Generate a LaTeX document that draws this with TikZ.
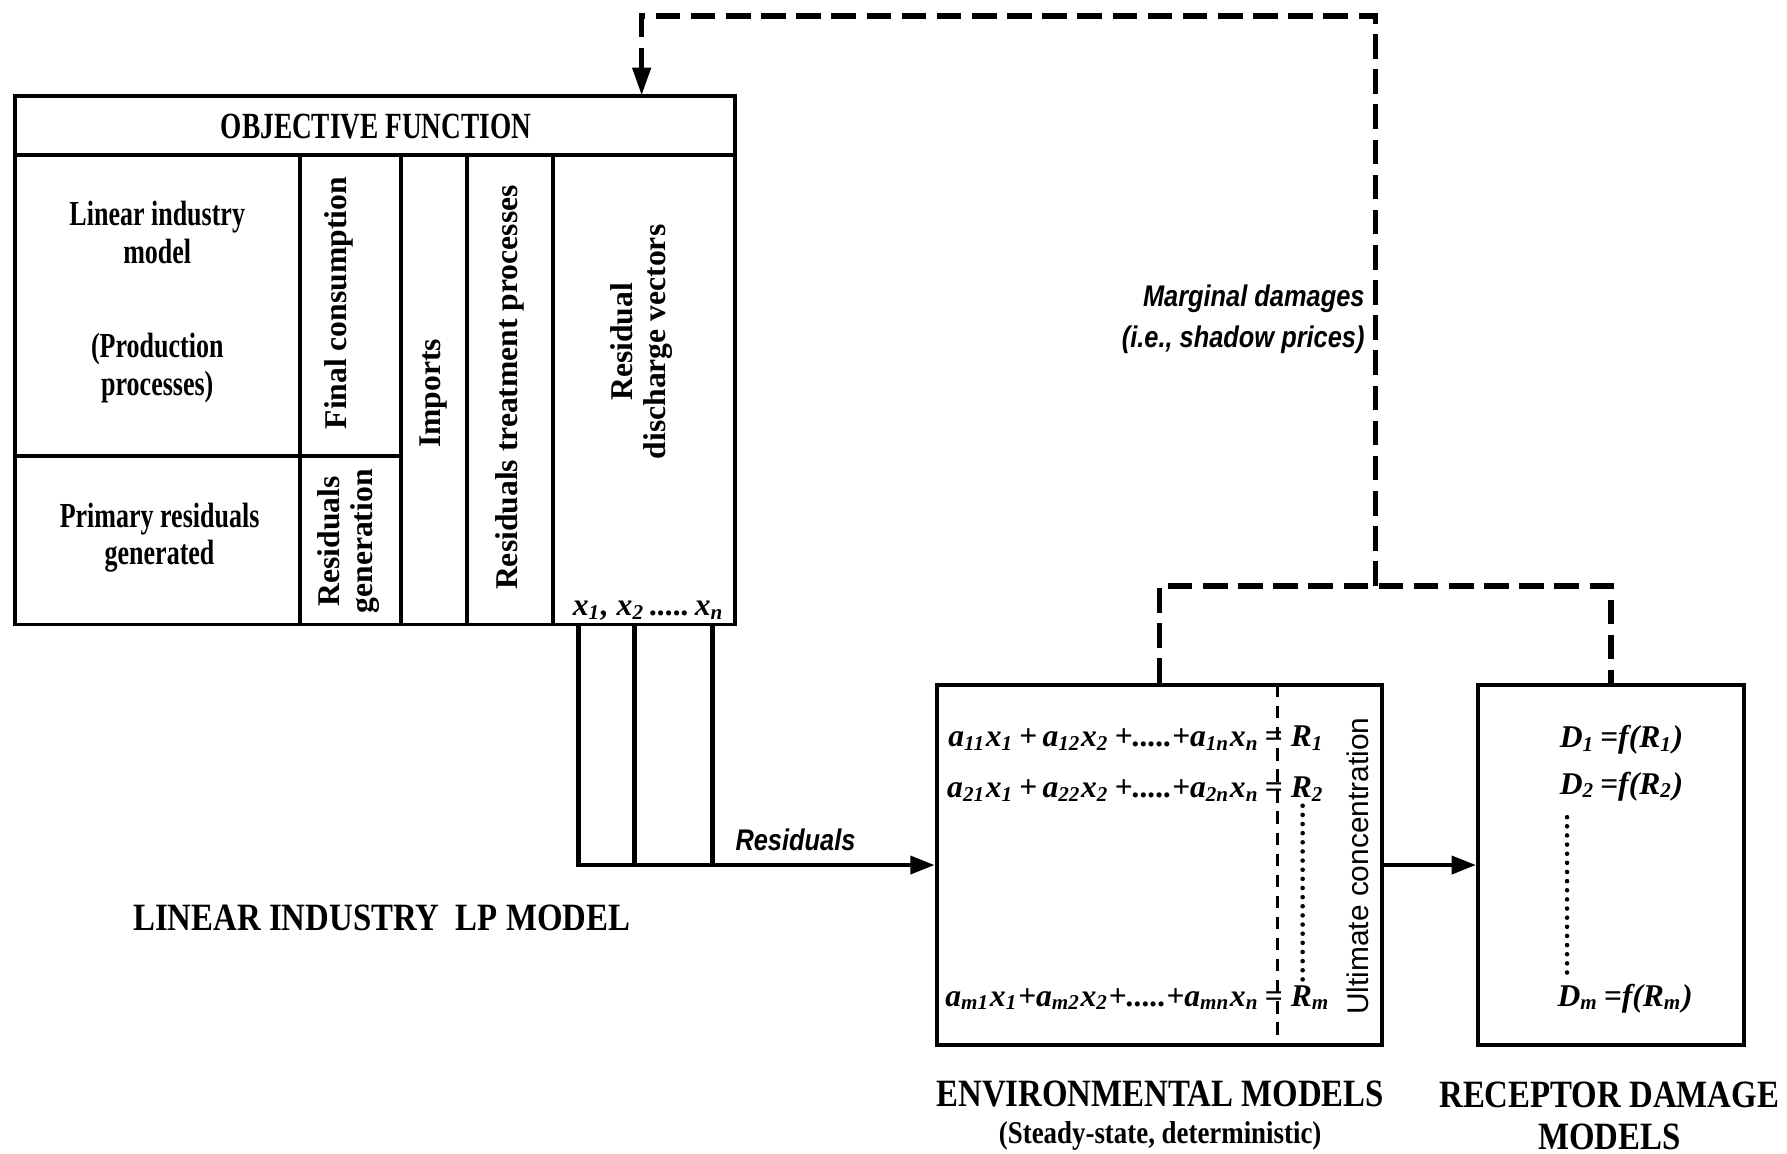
\documentclass[tikz,border=0pt]{standalone}
\usepackage{fontspec}
\setmainfont{Liberation Serif}
\setsansfont{Liberation Sans}
\newfontfamily\condserif{Liberation Serif}[FakeStretch=0.85]
\newfontfamily\narrowserif{Liberation Serif}[FakeStretch=0.74]
\newfontfamily\condsans{Liberation Sans}[FakeStretch=0.85]
\usetikzlibrary{arrows.meta,fit}
% subscript inside the italic formulas
\newcommand\sbs[1]{\textsubscript{#1}}

\begin{document}
\begin{tikzpicture}[x=0.011397cm,y=-0.011397cm,
  box/.style={draw,line width=1.1pt,inner sep=0pt},
  celltext/.style={font=\narrowserif\bfseries\fontsize{10}{10.6}\selectfont,align=center,inner sep=1pt},
  vlbl/.style={font=\bfseries\fontsize{9}{9.5}\selectfont,rotate=90,align=center,inner sep=1pt},
  caption/.style={font=\condserif\bfseries\fontsize{11}{12}\selectfont,align=center,inner sep=1pt},
  subcaption/.style={font=\condserif\bfseries\fontsize{9}{11}\selectfont,align=center,inner sep=1pt},
  note/.style={font=\condsans\bfseries\itshape\fontsize{8.5}{11.5}\selectfont,inner sep=1pt},
  eq/.style={font=\bfseries\itshape\fontsize{9}{11}\selectfont,inner sep=0pt},
  flow/.style={line width=1.4pt},
  fb/.style={line width=1.6pt,dash pattern=on 7pt off 3pt},
  tip/.style={-{Triangle[length=7pt,width=5pt]}},
  dotline/.style={line width=1.3pt,line cap=round,dash pattern=on 0pt off 2.6pt},
  thindash/.style={line width=0.8pt,dash pattern=on 3.5pt off 2.5pt}]

\fill[white] (0,0) rectangle (1568,1012);
\useasboundingbox (0,0) rectangle (1568,1012);

% ---- linear industry LP model: table of cells
\node[box,fit={(13,84)(645,136)}]   (objf)   {};
\node[box,fit={(13,136)(263,400)}]  (lin)    {};
\node[box,fit={(13,400)(263,548)}]  (prim)   {};
\node[box,fit={(263,136)(352,400)}] (fcons)  {};
\node[box,fit={(263,400)(352,548)}] (rgen)   {};
\node[box,fit={(352,136)(410,548)}] (imp)    {};
\node[box,fit={(410,136)(485,548)}] (rtreat) {};
\node[box,fit={(485,136)(645,548)}] (rdis)   {};

\node[celltext,font=\narrowserif\bfseries\fontsize{10.5}{12}\selectfont] (tobj) at (330,111) {OBJECTIVE FUNCTION};
\node[celltext] (tlin)  at (138,204) {Linear industry\\model};
\node[celltext] (tprod) at (138,323) {(Production\\processes)};
\node[celltext] (tprim) at (140,472) {Primary residuals\\generated};
\node[vlbl] (tfcons)  at (297,266) {Final consumption};
\node[vlbl] (trgen)   at (306,475) {Residuals\\generation};
\node[vlbl] (timp)    at (380,345) {Imports};
\node[vlbl] (trtreat) at (447,340) {Residuals treatment processes};
\node[vlbl] (trdis)   at (563,300) {Residual\\discharge vectors};
\node[eq] (txs) at (569,536) {x\sbs{1}, x\sbs{2}\,.....\,x\sbs{n}};

\node[caption] (lpcap) at (335,805) {LINEAR INDUSTRY\ \ LP MODEL};

% ---- environmental models
\node[box,fit={(822,601)(1213,917)}] (envbox) {};
\coordinate (dashTop) at (1121,601);
\coordinate (dashBot) at (1121,917);
\draw[thindash] (dashTop) -- (dashBot);

\node[eq,anchor=base east] (e1) at (1126,655) {a\sbs{11}x\sbs{1}\,+\,a\sbs{12}x\sbs{2}\,+.....+a\sbs{1n}x\sbs{n}\,=};
\node[eq,anchor=base west] (r1) at (1132,655) {R\sbs{1}};
\node[eq,anchor=base east] (e2) at (1126,700) {a\sbs{21}x\sbs{1}\,+\,a\sbs{22}x\sbs{2}\,+.....+a\sbs{2n}x\sbs{n}\,=};
\node[eq,anchor=base west] (r2) at (1132,700) {R\sbs{2}};
\node[eq,anchor=base east] (em) at (1126,883) {a\sbs{m1}x\sbs{1}+a\sbs{m2}x\sbs{2}+.....+a\sbs{mn}x\sbs{n}\,=};
\node[eq,anchor=base west] (rm) at (1132,883) {R\sbs{m}};
\coordinate (eqdA) at (1143,707);
\coordinate (eqdB) at (1143,862);
\draw[dotline] (eqdA) -- (eqdB);

\node[font=\fontsize{8.5}{10}\selectfont\sffamily,rotate=90,inner sep=0pt] (ult) at (1191,760) {Ultimate concentration};

\node[caption] (envcap) at (1018,960) {ENVIRONMENTAL MODELS};
\node[subcaption] (envsub) at (1018,997) {(Steady-state, deterministic)};

% ---- receptor damage models
\node[box,fit={(1297,601)(1530,917)}] (recbox) {};
\node[eq,anchor=base west] (d1) at (1368,656) {D\sbs{1}\,=f(R\sbs{1})};
\node[eq,anchor=base west] (d2) at (1368,697) {D\sbs{2}\,=f(R\sbs{2})};
\node[eq,anchor=base west] (dm) at (1366,883) {D\sbs{m}\,=f(R\sbs{m})};
\coordinate (rdA) at (1375,717);
\coordinate (rdB) at (1375,857);
\draw[dotline] (rdA) -- (rdB);

\node[caption] (reccap) at (1412,979) {RECEPTOR DAMAGE\\MODELS};

% ---- residual discharges to the environmental models
\coordinate (v1) at (508,548);
\coordinate (v2) at (557,548);
\coordinate (v3) at (625,548);
\draw[flow,tip] (v1) |- (envbox.west);
\draw[flow] (v2) -- (v2 |- envbox.west);
\draw[flow] (v3) -- (v3 |- envbox.west);
\node[note] (tres) at (698,737) {Residuals};

\draw[flow,tip] (envbox.east) -- (recbox.west);

% ---- feedback of marginal damages
\coordinate (junc)  at (1207,514);
\coordinate (fbtop) at (1207,14);
\coordinate (lpin)  at (563,84);
\draw[fb] (envbox.north) |- (junc) -| (recbox.north);
\draw[fb,-{Triangle[length=8pt,width=5pt]}] (junc) -- (fbtop) -| (lpin);
\node[note,anchor=east,align=right] (md) at (1201,280) {Marginal damages\\(i.e., shadow prices)};

\end{tikzpicture}
\end{document}
